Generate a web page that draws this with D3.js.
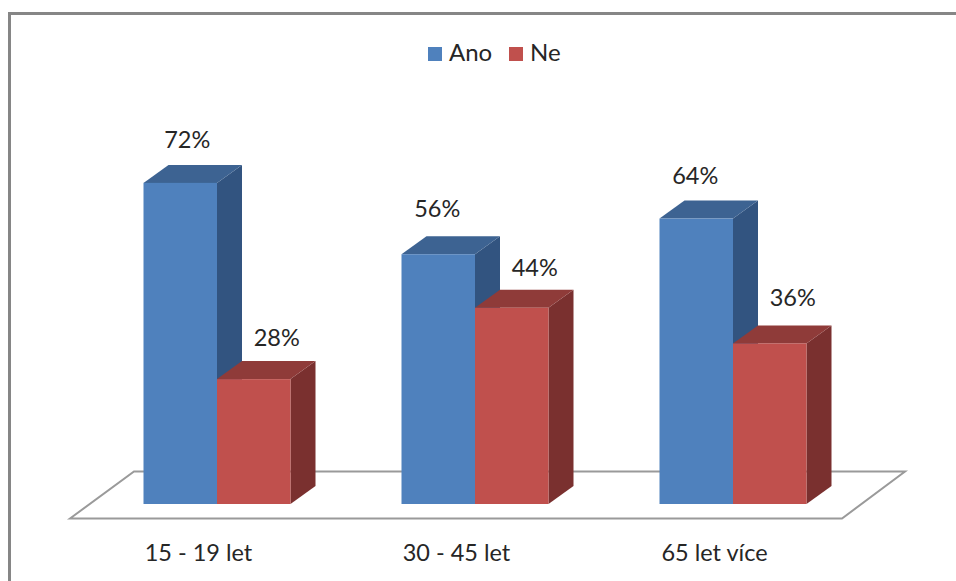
<!DOCTYPE html>
<html>
<head>
<meta charset="utf-8">
<script src="https://cdnjs.cloudflare.com/ajax/libs/d3/7.8.5/d3.min.js"></script>
<style>
  html, body { margin: 0; padding: 0; background: #fff; }
  svg { display: block; }
  text { font-family: Lato, "Open Sans", sans-serif; fill: #262626; }
</style>
</head>
<body>
<svg id="chart" width="956" height="581"></svg>
<script>
// Share of answers per age group
const categories = ["15 - 19 let", "30 - 45 let", "65 let více"];
const seriesNames = ["Ano", "Ne"];
const ano = [0.72, 0.56, 0.64];
const ne = [0.28, 0.44, 0.36];

const seriesValues = [ano, ne];
const frontColors = ["#4f81bd", "#c0504d"];
const topColors = ["#3d6392", "#8f3b39"];
const sideColors = ["#325480", "#7a302f"];

// Depth of the extruded columns
const depthX = 25, depthY = -18;

const svg = d3.select("#chart");

const x = d3.scaleBand().domain(categories).range([88, 862]);
const y = d3.scaleLinear().domain([0, 1]).range([504, 58]);
const barW = 73.5;

// Outer frame, open on the right and bottom as it runs off the page
svg.append("path")
  .attr("d", "M9.5,581V13.5H956")
  .attr("fill", "none")
  .attr("stroke", "#868686")
  .attr("stroke-width", 3);

// Floor plane
svg.append("path")
  .attr("d", "M70,518.5L134,471.5H905L842,518.5Z")
  .attr("fill", "#fff")
  .attr("stroke", "#9a9a9a")
  .attr("stroke-width", 2);

const poly = pts => "M" + pts.map(p => p.join(",")).join("L") + "Z";

// Columns, drawn left to right so nearer faces cover the earlier sides
categories.forEach((cat, i) => {
  const cx = x(cat) + x.bandwidth() / 2;
  seriesValues.forEach((vals, s) => {
    const x0 = s === 0 ? cx - barW : cx;
    const x1 = x0 + barW;
    const y0 = y(0), y1 = y(vals[i]);
    const g = svg.append("g").attr("class", "column");
    g.append("path")
      .attr("d", poly([[x1, y1], [x1 + depthX, y1 + depthY], [x1 + depthX, y0 + depthY], [x1, y0]]))
      .attr("fill", sideColors[s]);
    g.append("path")
      .attr("d", poly([[x0, y1], [x0 + depthX, y1 + depthY], [x1 + depthX, y1 + depthY], [x1, y1]]))
      .attr("fill", topColors[s]);
    g.append("rect")
      .attr("x", x0).attr("y", y1)
      .attr("width", barW).attr("height", y0 - y1)
      .attr("fill", frontColors[s]);
  });
});

// Value labels, offset from each column's centre and top edge
const labelNudge = [[7, 0], [23, 2], [-1, -2], [23, 3], [-1, 0], [23, -2]];
categories.forEach((cat, i) => {
  const cx = x(cat) + x.bandwidth() / 2;
  seriesValues.forEach((vals, s) => {
    const n = labelNudge[i * 2 + s];
    svg.append("text")
      .attr("x", (s === 0 ? cx - barW / 2 : cx + barW / 2) + n[0])
      .attr("y", y(vals[i]) + depthY - 17 + n[1])
      .attr("text-anchor", "middle")
      .attr("font-size", 23.5)
      .text(d3.format(".0%")(vals[i]));
  });
});

// Category labels
svg.selectAll("text.cat")
  .data(categories)
  .join("text")
  .attr("class", "cat")
  .attr("x", d => x(d) + x.bandwidth() / 2 - 18.5)
  .attr("y", 561)
  .attr("text-anchor", "middle")
  .attr("font-size", 23.5)
  .text(d => d);

// Legend
const legendX = [428, 509];
seriesNames.forEach((name, s) => {
  svg.append("rect")
    .attr("x", legendX[s]).attr("y", 47)
    .attr("width", 14).attr("height", 14)
    .attr("fill", frontColors[s]);
  svg.append("text")
    .attr("x", legendX[s] + 21).attr("y", 61)
    .attr("font-size", 24)
    .text(name);
});
</script>
</body>
</html>
